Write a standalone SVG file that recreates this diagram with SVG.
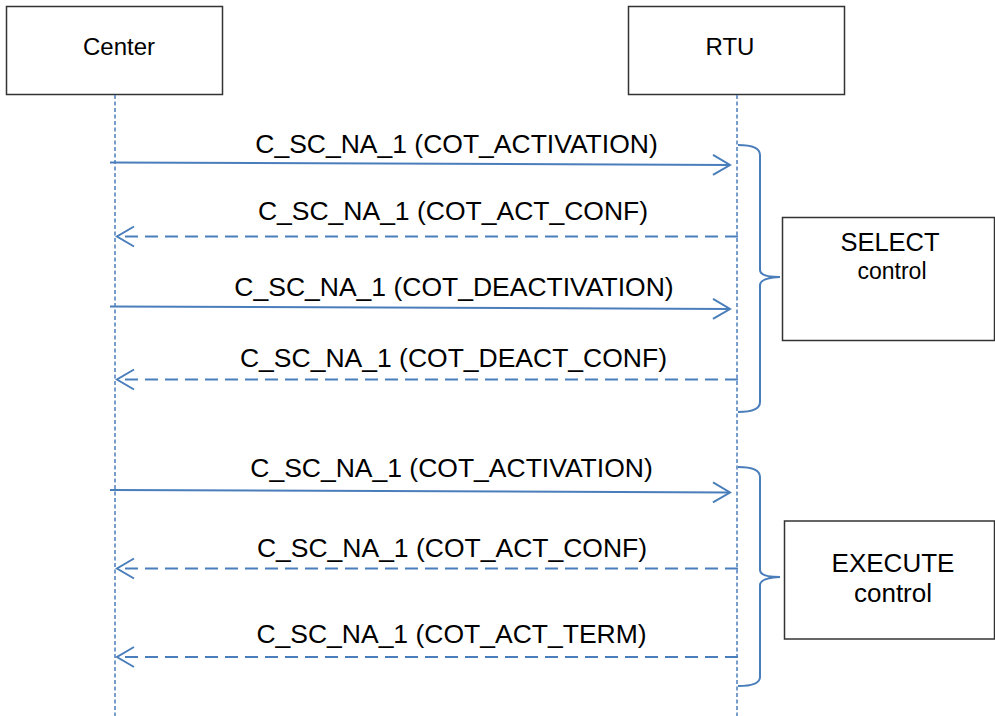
<svg xmlns="http://www.w3.org/2000/svg" width="995" height="716" viewBox="0 0 995 716">
  <style>
    .box { fill: #ffffff; stroke: #333333; stroke-width: 1.5; }
    .t { font-family: "Liberation Sans", Arial, sans-serif; fill: #000000; text-anchor: middle; }
    .life { stroke: #4A7EBB; stroke-width: 1.5; stroke-dasharray: 4 2.5; fill: none; }
    .msg { stroke: #4A7EBB; stroke-width: 2; fill: none; }
    .dash { stroke-dasharray: 13 7; }
    .brace { stroke: #4A7EBB; stroke-width: 2; fill: none; }
  </style>
  <defs>
    <marker id="arr" markerUnits="userSpaceOnUse" markerWidth="22" markerHeight="24" refX="18" refY="11" orient="auto">
      <path d="M1,1 L18,11 L1,21" fill="none" stroke="#4A7EBB" stroke-width="2" stroke-dasharray="none"/>
    </marker>
  </defs>

  <g id="center">
    <rect class="box" x="6.5" y="6.5" width="216" height="88"/>
    <text class="t" x="119" y="55" font-size="24">Center</text>
  </g>
  <g id="rtu">
    <rect class="box" x="628.5" y="6.5" width="216" height="88"/>
    <text class="t" x="730" y="55" font-size="24">RTU</text>
  </g>

  <g id="lifelines">
    <line class="life" x1="115" y1="95" x2="115" y2="716"/>
    <line class="life" x1="737" y1="95" x2="737" y2="716"/>
  </g>

  <g id="connectors">
    <line class="msg" x1="110" y1="162.5" x2="730" y2="165" marker-end="url(#arr)"/>
    <line class="msg dash" x1="738" y1="236.5" x2="117" y2="236.5" marker-end="url(#arr)"/>
    <line class="msg" x1="110" y1="306.5" x2="730" y2="309" marker-end="url(#arr)"/>
    <line class="msg dash" x1="738" y1="379.5" x2="117" y2="379.5" marker-end="url(#arr)"/>
    <line class="msg" x1="110" y1="490" x2="730" y2="492.5" marker-end="url(#arr)"/>
    <line class="msg dash" x1="738" y1="568.5" x2="117" y2="568.5" marker-end="url(#arr)"/>
    <line class="msg dash" x1="738" y1="657" x2="117" y2="657" marker-end="url(#arr)"/>
  </g>

  <g id="labels">
    <text class="t" x="456.5" y="153" font-size="26.5">C_SC_NA_1 (COT_ACTIVATION)</text>
    <text class="t" x="453" y="220" font-size="26.5">C_SC_NA_1 (COT_ACT_CONF)</text>
    <text class="t" x="454" y="296" font-size="26.5">C_SC_NA_1 (COT_DEACTIVATION)</text>
    <text class="t" x="453.5" y="367" font-size="26.5">C_SC_NA_1 (COT_DEACT_CONF)</text>
    <text class="t" x="451.5" y="477" font-size="26.5">C_SC_NA_1 (COT_ACTIVATION)</text>
    <text class="t" x="452" y="557" font-size="26.5">C_SC_NA_1 (COT_ACT_CONF)</text>
    <text class="t" x="451.5" y="643" font-size="26.5">C_SC_NA_1 (COT_ACT_TERM)</text>
  </g>

  <g id="brace-select">
    <path class="brace" d="M738,145 Q760,145 760,155 L760,270 Q760,277 780,277 Q760,278 760,285 L760,402 Q760,412 738,412"/>
  </g>
  <g id="select">
    <rect class="box" x="782.5" y="217.5" width="212" height="123"/>
    <text class="t" x="890" y="251" font-size="25.5">SELECT</text>
    <text class="t" x="892" y="279" font-size="23">control</text>
  </g>

  <g id="brace-execute">
    <path class="brace" d="M738,467 Q760,467 760,477 L760,570 Q760,577 780,577 Q760,578 760,585 L760,677 Q760,686 738,686"/>
  </g>
  <g id="execute">
    <rect class="box" x="784.5" y="521" width="210" height="118"/>
    <text class="t" x="893" y="572" font-size="26">EXECUTE</text>
    <text class="t" x="893" y="602" font-size="26">control</text>
  </g>
</svg>
